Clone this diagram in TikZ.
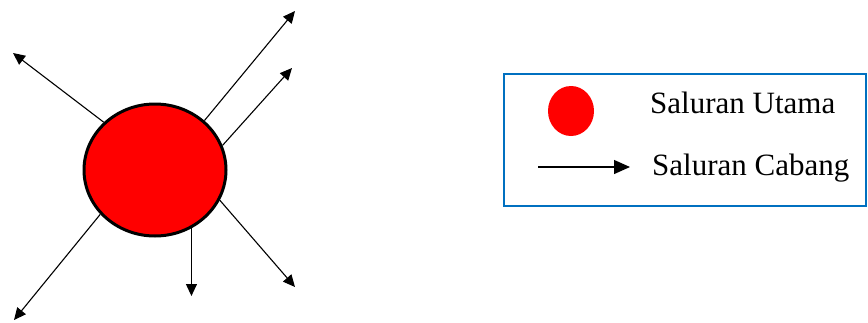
\documentclass[tikz,border=0pt]{standalone}
\usepackage{fontspec}
\setmainfont{Liberation Serif}
\usepackage{tikz}
\usetikzlibrary{shapes.geometric,arrows.meta}
\definecolor{sred}{HTML}{FF0000}
\definecolor{sblue}{HTML}{0070C0}

\begin{document}
\begin{tikzpicture}[x=1pt, y=-1pt,
  mainline/.style={ellipse, draw=black, fill=sred, line width=3pt,
    minimum width=142pt, minimum height=132pt, inner sep=0pt},
  branch/.style={-{Triangle[length=12pt,width=11pt]}, line width=1.1pt, color=black},
  legendbox/.style={rectangle, draw=sblue, line width=2.2pt,
    minimum width=362pt, minimum height=132pt},
  legtext/.style={anchor=base west, inner sep=0pt, font=\fontsize{31}{36}\selectfont}
]
\useasboundingbox (0,0) rectangle (868,322);

% saluran utama dan cabang
\node[mainline] (main) at (155,170) {};
\coordinate (tipnw) at (13,53);
\coordinate (tipne) at (295,11);
\coordinate (tipe) at (292,68);
\coordinate (tipse) at (295,287);
\coordinate (tips) at (193,296);
\coordinate (tipsw) at (14,320);

\draw[branch] (main.137) -- (tipnw);
\draw[branch] (main.45) -- (tipne);
\draw[branch] (main.20) -- (tipe);
\draw[branch] (main.335) -- (tipse);
\draw[branch] (main.302) -- (main.302 |- tips);
\draw[branch] (main.219) -- (tipsw);

% keterangan
\node[legendbox] (legend) at (685,140) {};
\node[ellipse, fill=sred, minimum width=46pt, minimum height=50pt, inner sep=0pt] (ldot) at (571,111) {};
\node[legtext] (lmain) at (650,113) {Saluran Utama};
\coordinate (lstart) at (538,167);
\coordinate (lend) at (630,167);
\draw[-{Triangle[length=16pt,width=14pt]}, line width=1.3pt] (lstart) -- (lend);
\node[legtext] (lbranch) at (652,175) {Saluran Cabang};
\end{tikzpicture}
\end{document}
